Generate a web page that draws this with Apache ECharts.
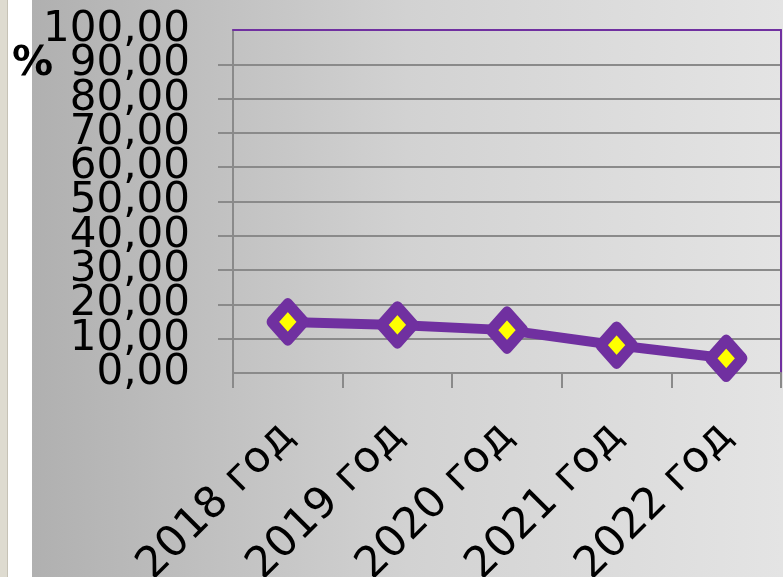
<!DOCTYPE html>
<html>
<head>
<meta charset="utf-8">
<script src="https://cdn.jsdelivr.net/npm/echarts@6/dist/echarts.min.js"></script>
<style>
  html, body { margin: 0; padding: 0; }
  #chart { width: 783px; height: 577px; }
</style>
</head>
<body>
<div id="chart"></div>
<script>
// data
const years = ['2018 год', '2019 год', '2020 год', '2021 год', '2022 год'];
const shares = [14.9, 14.0, 12.5, 8.1, 4.3];
const yTicks = { min: 0, max: 100, step: 10 };

const purple = '#7030a0';
const gridGray = '#8a8a8a';
const font = 'DejaVu Sans';
const fmt = v => v.toFixed(2).replace('.', ',');

const myChart = echarts.init(document.getElementById('chart'));

const labelBase = { margin: 43, fontFamily: font, fontSize: 42, color: '#000' };

const option = {
    animation: false,
    backgroundColor: '#ffffff',
    graphic: [
        { type: 'rect', z: -10, shape: { x: 0, y: 0, width: 7, height: 577 }, style: { fill: '#dedbd0' } },
        { type: 'rect', z: -10, shape: { x: 7, y: 0, width: 1, height: 577 }, style: { fill: '#c6c2b6' } },
        {
            type: 'rect', z: -10,
            shape: { x: 32, y: 0, width: 751, height: 577 },
            style: {
                fill: new echarts.graphic.LinearGradient(0, 0, 1, 0, [
                    { offset: 0, color: '#b0b0b0' },
                    { offset: 0.5, color: '#d2d2d2' },
                    { offset: 1, color: '#e4e4e4' }
                ])
            }
        },
        {
            type: 'text', left: 12, top: 44,
            style: { text: '%', fontFamily: font, fontWeight: 'bold', fontSize: 41, fill: '#000' }
        },
        {
            type: 'text', x: 680, y: -11,
            style: { text: 'тыс.', fontFamily: font, fontWeight: 'bold', fontSize: 40, fill: '#000', verticalAlign: 'middle' }
        }
    ],
    grid: { left: 233, top: 30, right: 2, bottom: 204, containLabel: false, outerBoundsMode: 'none' },
    xAxis: [{
        type: 'category',
        data: years,
        boundaryGap: true,
        axisLine: { onZero: false, lineStyle: { color: gridGray, width: 2 } },
        axisTick: { show: true, length: 15, lineStyle: { color: gridGray, width: 2 } },
        axisLabel: {
            rotate: 45, interval: 0, margin: 57,
            fontFamily: font, fontSize: 43, color: '#000'
        }
    }, {
        type: 'category',
        data: years,
        position: 'top',
        axisLine: { onZero: false, lineStyle: { color: purple, width: 2 } },
        axisTick: { show: false },
        axisLabel: { show: false }
    }],
    yAxis: [{
        // main axis: grid, ticks and the inner labels 10..90
        type: 'value',
        min: yTicks.min, max: yTicks.max, interval: yTicks.step,
        axisLine: { show: true, lineStyle: { color: gridGray, width: 2 } },
        axisTick: { show: true, length: 15, lineStyle: { color: gridGray, width: 2 } },
        splitLine: { show: true, lineStyle: { color: gridGray, width: 2 } },
        axisLabel: Object.assign({}, labelBase, {
            showMinLabel: false, showMaxLabel: false, hideOverlap: false,
            formatter: fmt
        })
    }, {
        type: 'value',
        position: 'right',
        min: yTicks.min, max: yTicks.max, interval: yTicks.step,
        axisLine: { show: true, onZero: false, lineStyle: { color: purple, width: 2 } },
        axisTick: { show: false },
        axisLabel: { show: false },
        splitLine: { show: false }
    }, {
        // helper axis carrying only the end labels 0 and 100
        type: 'value',
        position: 'left',
        min: yTicks.min, max: yTicks.max, interval: yTicks.step,
        axisLine: { show: false, onZero: false },
        axisTick: { show: false },
        splitLine: { show: false },
        axisLabel: Object.assign({}, labelBase, {
            showMinLabel: true, showMaxLabel: true,
            formatter: v => (v === yTicks.min || v === yTicks.max) ? fmt(v) : ''
        })
    }],
    series: [{
        type: 'line',
        data: shares,
        lineStyle: { color: purple, width: 10 },
        symbol: 'diamond',
        symbolSize: [32, 36],
        itemStyle: { color: '#ffff00', borderColor: purple, borderWidth: 11, borderJoin: 'round' },
        z: 5
    }]
};

option && myChart.setOption(option);
</script>
</body>
</html>
